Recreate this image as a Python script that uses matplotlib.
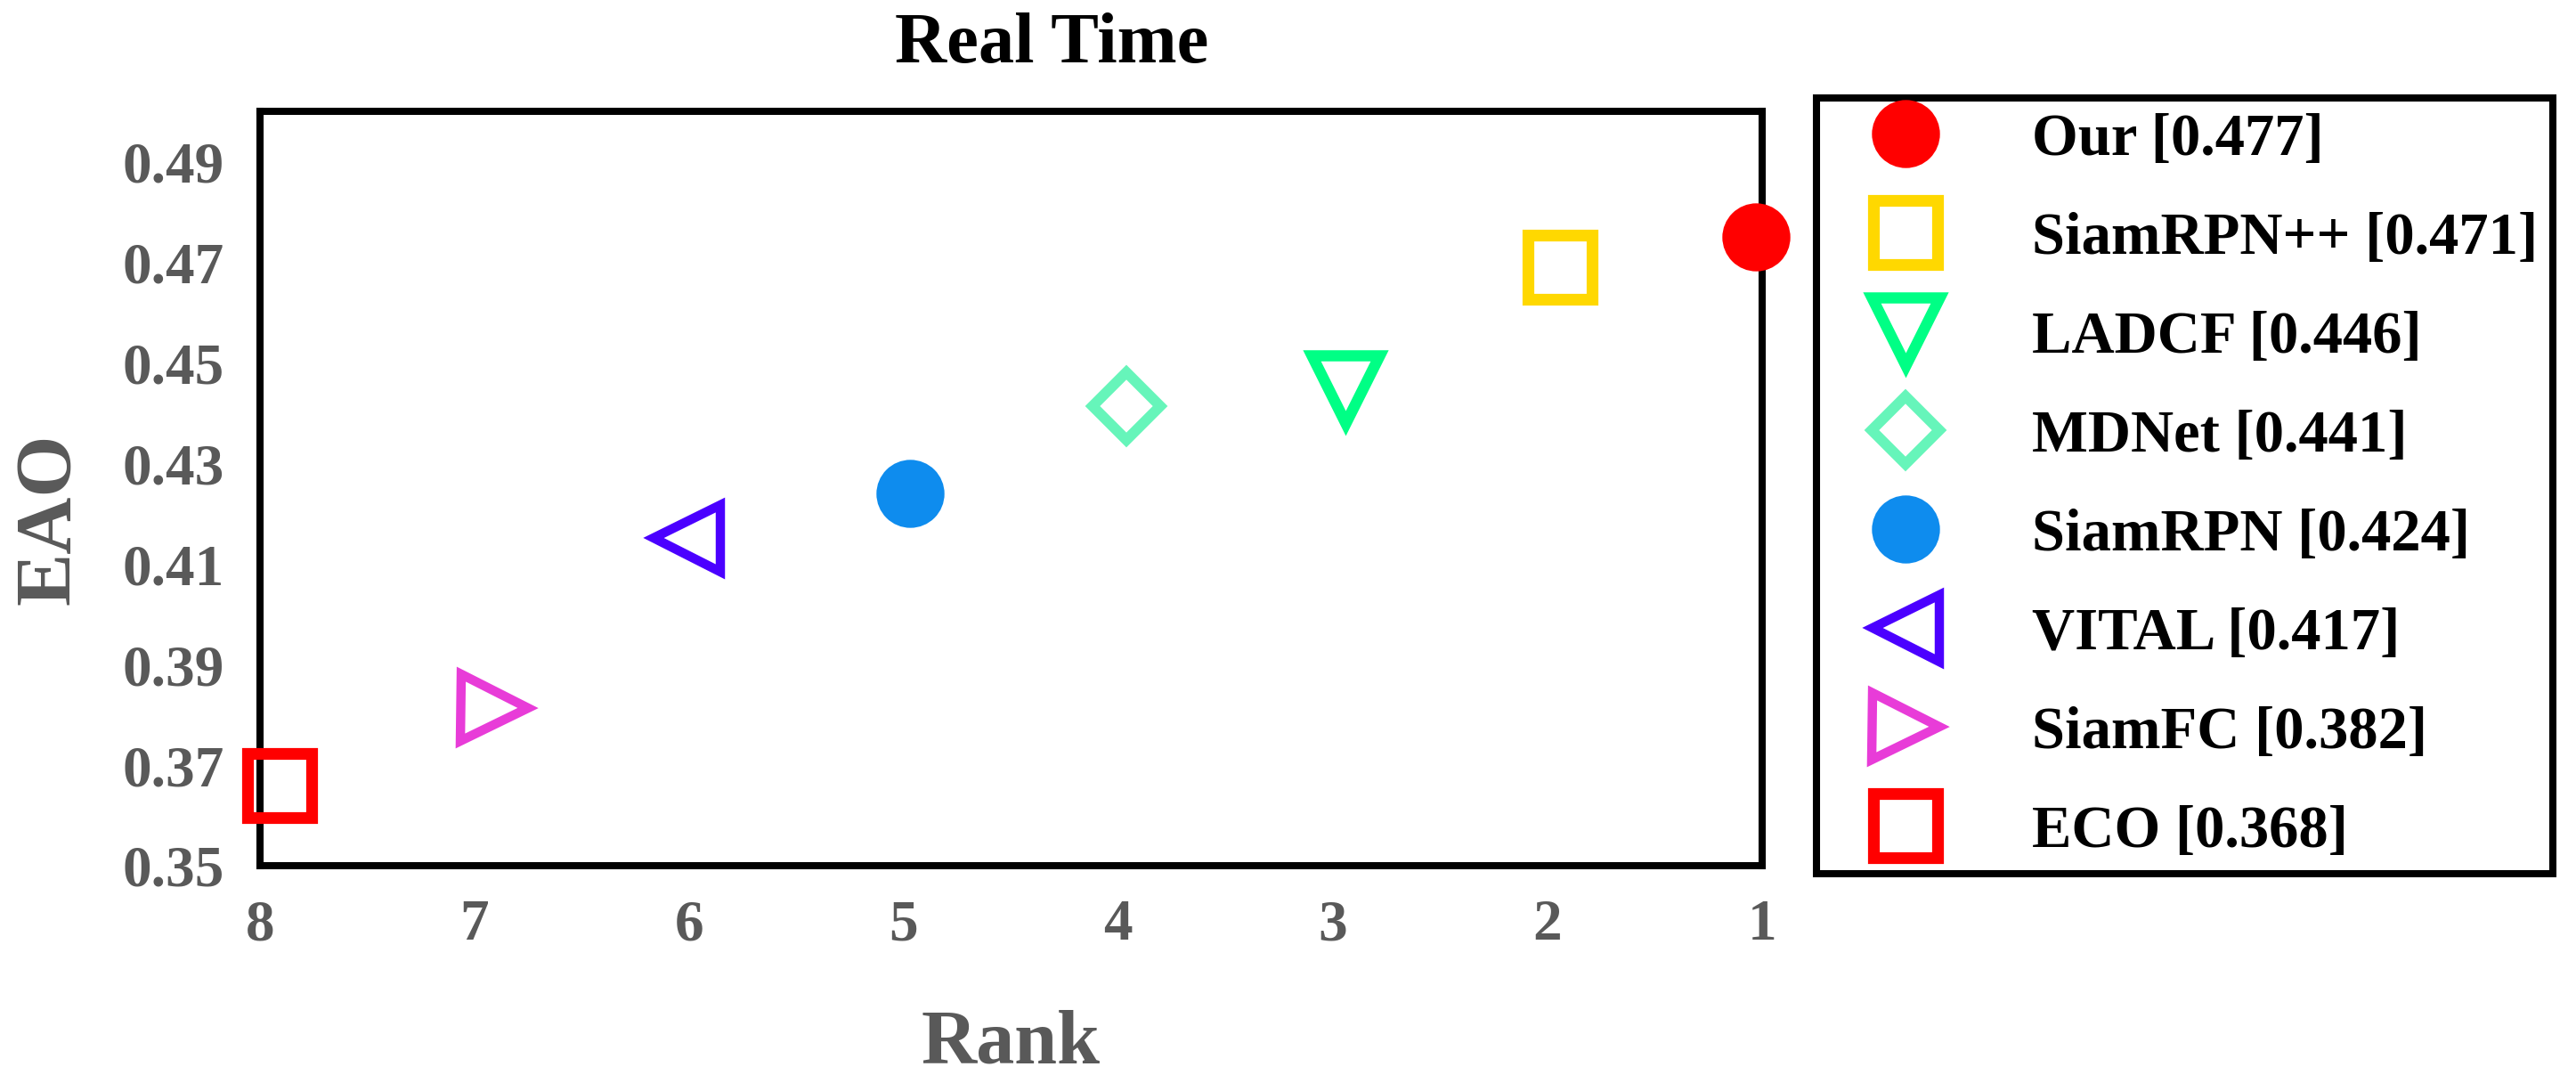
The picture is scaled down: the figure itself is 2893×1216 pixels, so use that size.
import matplotlib
matplotlib.use("Agg")
import matplotlib.pyplot as plt

# trackers, in legend order
names = ["Our", "SiamRPN++", "LADCF", "MDNet", "SiamRPN", "VITAL", "SiamFC", "ECO"]
scores = [0.477, 0.471, 0.446, 0.441, 0.424, 0.417, 0.382, 0.368]
# where the marks sit in the picture
rank_pos = [1.03, 1.94, 2.94, 3.96, 4.97, 6.01, 6.91, 7.91]
eao_pos = [0.475, 0.469, 0.4447, 0.4414, 0.424, 0.4152, 0.3813, 0.366]

x_ticks = [8, 7, 6, 5, 4, 3, 2, 1]
y_ticks = [0.35, 0.37, 0.39, 0.41, 0.43, 0.45, 0.47, 0.49]

markers = ["o", "s", "v", "D", "o", "<", ">", "s"]
colors = ["#FF0000", "#FFD800", "#00FF85", "#66F5BA", "#0E8CEE", "#4B00FF", "#E83CD8", "#FF0000"]
filled = [True, False, False, False, True, False, False, False]
msizes = [55, 52, 55, 39, 55, 54, 54, 52]
mews = [0, 9.5, 9, 8.5, 0, 7.5, 7.5, 9.5]

plt.rcParams['font.family'] = ['Liberation Serif', 'DejaVu Serif']
plt.rcParams['font.weight'] = 'bold'

fig = plt.figure(figsize=(28.93, 12.16), dpi=100)
ax = fig.add_axes([0.1009, 0.2007, 0.5831, 0.6965])

for i in range(len(names)):
    ax.plot(rank_pos[i], eao_pos[i], linestyle='none', marker=markers[i],
            markersize=msizes[i], markeredgewidth=mews[i],
            markeredgecolor=colors[i],
            markerfacecolor=colors[i] if filled[i] else 'none',
            label=f"{names[i]} [{scores[i]:.3f}]",
            clip_on=False, zorder=3)

ax.set_xlim(8, 1)
ax.set_ylim(0.35, 0.50)
ax.set_xticks(x_ticks)
ax.set_xticklabels([str(t) for t in x_ticks])
ax.set_yticks(y_ticks)
ax.set_yticklabels([f"{t:.2f}" for t in y_ticks])

gray = "#595959"
ax.tick_params(axis='both', length=0, labelsize=47, labelcolor=gray)
ax.tick_params(axis='y', pad=29)
ax.tick_params(axis='x', pad=27)
for lab in ax.get_xticklabels() + ax.get_yticklabels():
    lab.set_fontweight('bold')

for sp in ax.spines.values():
    sp.set_linewidth(5.8)
    sp.set_color('black')

ax.set_xlabel("Rank", fontsize=62, fontweight='bold', color=gray, va='baseline')
ax.xaxis.set_label_coords(0.5, -0.262)
ax.set_ylabel("EAO", fontsize=64, fontweight='bold', color=gray, va='center')
ax.yaxis.set_label_coords(-0.140, 0.459)

ax.set_title("Real Time", fontsize=58, fontweight='bold', x=0.527, y=1.0555, va='baseline')

leg = ax.legend(loc='upper left', bbox_to_anchor=(2040 / 2893, 1 - 110 / 1216),
                bbox_transform=fig.transFigure, borderaxespad=0,
                prop={'size': 48, 'weight': 'bold'}, numpoints=1,
                fancybox=False, framealpha=1, edgecolor='black',
                borderpad=0.25, labelspacing=0.75, handlelength=2.5,
                handletextpad=0.88)
leg.get_frame().set_linewidth(5.8)

fig.savefig("out.png", dpi=100)
